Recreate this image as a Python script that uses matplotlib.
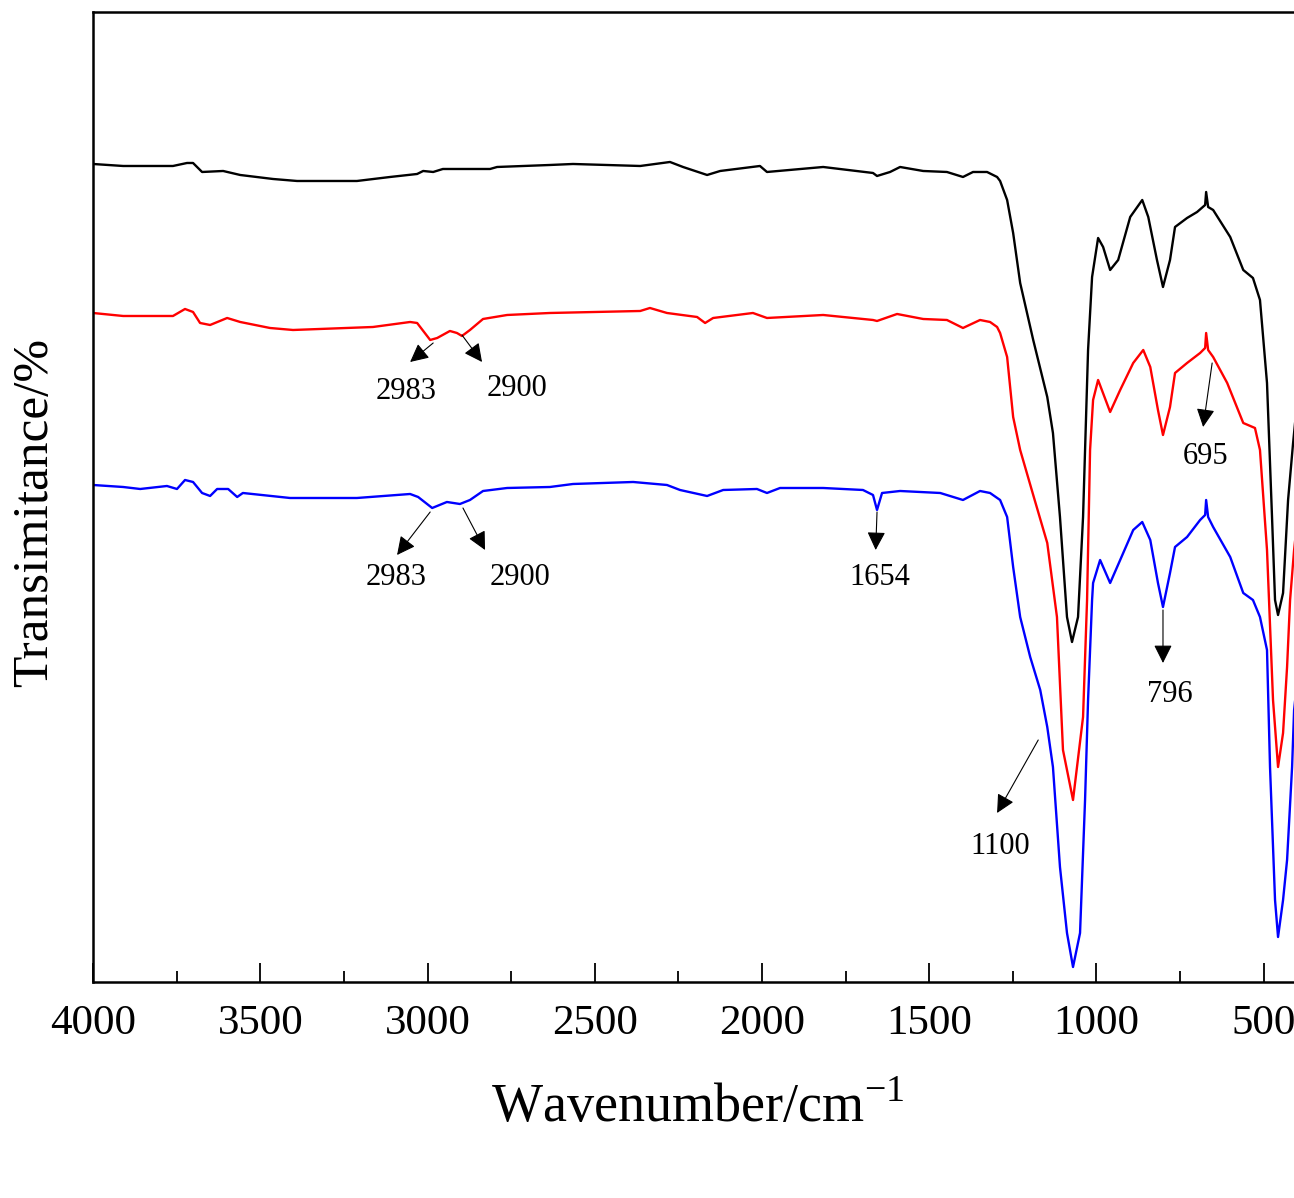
# FTIR spectra of the three samples, stacked with offsets
import numpy as np
import matplotlib.pyplot as plt
from matplotlib.ticker import MultipleLocator

plt.rcParams['font.family'] = ['Liberation Serif', 'DejaVu Serif']
plt.rcParams['mathtext.fontset'] = 'custom'
plt.rcParams['mathtext.rm'] = 'Liberation Serif'

# wavenumber (cm-1) and transmittance (offset, a.u.)
wn_black = [4000, 3910, 3761, 3719, 3701, 3674, 3611, 3560, 3462, 3390, 3211, 3112,
            3031, 3013, 2983, 2954, 2813, 2792, 2634, 2565, 2364, 2275, 2236, 2164,
            2125, 2006, 1985, 1817, 1668, 1656, 1617, 1587, 1518, 1447, 1399, 1369,
            1327, 1297, 1288, 1267, 1249, 1228, 1189, 1147, 1130, 1109, 1088, 1073,
            1055, 1040, 1025, 1013, 995, 980, 959, 935, 899, 863, 845, 819, 801, 780,
            765, 729, 699, 675, 672, 666, 651, 600, 561, 532, 511, 490, 475, 466, 457,
            442, 427, 412, 400]
t_black = [81.8, 81.6, 81.6, 81.9, 81.9, 81.0, 81.1, 80.7, 80.3, 80.1, 80.1, 80.5,
           80.8, 81.1, 81.0, 81.3, 81.3, 81.5, 81.7, 81.8, 81.6, 82.0, 81.5, 80.7,
           81.1, 81.6, 81.0, 81.5, 80.9, 80.6, 81.0, 81.5, 81.1, 81.0, 80.5, 81.0,
           81.0, 80.5, 80.1, 78.2, 74.9, 69.9, 64.2, 58.5, 54.9, 46.5, 36.5, 34.0,
           36.5, 46.5, 63.2, 70.5, 74.4, 73.5, 71.2, 72.2, 76.5, 78.2, 76.5, 72.2, 69.5, 72.2,
           75.5, 76.4, 77.0, 77.7, 79.0, 77.5, 77.2, 74.5, 71.2, 70.4, 68.2, 59.9, 46.5, 38.2, 36.7,
           38.9, 48.2, 53.9, 58.0]

wn_red = [4000, 3910, 3761, 3725, 3701, 3680, 3650, 3599, 3560, 3471, 3402, 3163,
          3052, 3031, 2992, 2971, 2933, 2912, 2897, 2873, 2834, 2762, 2634, 2364,
          2335, 2284, 2194, 2170, 2146, 2027, 1985, 1817, 1668, 1656, 1596, 1518,
          1447, 1399, 1348, 1318, 1297, 1288, 1267, 1249, 1228, 1189, 1147, 1118,
          1100, 1070, 1040, 1028, 1019, 1010, 995, 959, 929, 890, 860, 839, 816, 801,
          780, 765, 729, 690, 675, 672, 666, 651, 609, 561, 526, 511, 490, 472, 457,
          442, 430, 421, 409, 400]
t_red = [66.9, 66.6, 66.6, 67.3, 67.0, 65.9, 65.7, 66.4, 66.0, 65.4, 65.2, 65.5,
         66.0, 65.9, 64.2, 64.4, 65.1, 64.9, 64.6, 65.2, 66.3, 66.7, 66.9, 67.1,
         67.4, 66.9, 66.5, 65.9, 66.4, 66.9, 66.4, 66.7, 66.2, 66.1, 66.8, 66.3,
         66.2, 65.4, 66.2, 66.0, 65.5, 64.9, 62.5, 56.5, 53.2, 48.7, 43.9, 36.5,
         23.2, 18.2, 26.5, 38.2, 53.2, 58.2, 60.2, 57.0, 59.2, 61.9, 63.2, 61.5, 57.2, 54.7,
         57.5, 60.9, 61.9, 62.9, 63.4, 64.9, 63.2, 62.5, 59.9, 55.9, 55.4, 53.2, 43.2, 28.2, 21.5,
         24.9, 31.5, 38.2, 43.2, 46.0]

wn_blue = [4000, 3910, 3859, 3779, 3749, 3725, 3701, 3674, 3650, 3629, 3596, 3569,
           3552, 3411, 3211, 3052, 3028, 2986, 2942, 2903, 2873, 2834, 2762, 2634,
           2565, 2385, 2284, 2245, 2164, 2116, 2015, 1985, 1946, 1817, 1698, 1668,
           1656, 1641, 1587, 1467, 1399, 1348, 1318, 1288, 1267, 1249, 1228, 1198,
           1168, 1147, 1130, 1109, 1088, 1070, 1049, 1034, 1025, 1013, 1010, 989, 959,
           929, 890, 863, 839, 816, 801, 780, 765, 729, 690, 675, 672, 666, 651, 600,
           561, 532, 511, 490, 481, 466, 457, 442, 430, 415, 409, 400]
t_blue = [49.7, 49.5, 49.3, 49.6, 49.3, 50.2, 50.0, 48.9, 48.6, 49.3, 49.3, 48.5,
          48.9, 48.4, 48.4, 48.8, 48.5, 47.4, 48.0, 47.8, 48.2, 49.1, 49.4, 49.5,
          49.8, 50.0, 49.7, 49.2, 48.6, 49.2, 49.3, 48.9, 49.4, 49.4, 49.2, 48.7,
          47.2, 48.9, 49.1, 48.9, 48.2, 49.1, 48.9, 48.2, 46.5, 41.5, 36.5, 32.5,
          29.2, 25.5, 21.5, 11.5, 4.9, 1.5, 4.9, 18.2, 28.2, 38.2, 39.9, 42.2, 39.9,
          42.2, 45.2, 46.0, 44.2, 39.9, 37.5, 40.9, 43.5, 44.5, 46.2, 46.7, 48.2, 46.5, 45.5, 42.5,
          38.9, 38.2, 36.5, 33.2, 21.5, 8.2, 4.5, 8.2, 12.2, 21.5, 27.2, 30.0]

# peak labels: text, arrow tail (on curve), arrow head, label position
peak_labels = ['2983', '2900', '2983', '2900', '1654', '1100', '796', '695']
arrow_tail = [(2983, 63.9), (2897, 64.7), (2992, 47.0), (2894, 47.4),
              (1656, 47.0), (1174, 24.2), (801, 37.2), (654, 61.9)]
arrow_head = [(3052, 62.0), (2837, 62.0), (3091, 42.7), (2828, 43.2),
              (1660, 43.2), (1297, 16.9), (801, 31.9), (681, 55.5)]
label_pos = [(3064, 59.0), (2732, 59.3), (3094, 40.4), (2723, 40.4),
             (1647, 40.4), (1288, 13.5), (780, 28.7), (675, 52.5)]

fig = plt.figure(figsize=(12.94, 11.98), dpi=100)
ax = fig.add_axes([0.0719, 0.1803, 0.9305, 0.8097])

ax.plot(wn_black, t_black, color='black', lw=1.7)
ax.plot(wn_red, t_red, color='red', lw=1.7)
ax.plot(wn_blue, t_blue, color='blue', lw=1.7)

for lab, tail, head, pos in zip(peak_labels, arrow_tail, arrow_head, label_pos):
    ax.annotate('', xy=head, xytext=tail,
                arrowprops=dict(arrowstyle='-|>', color='black', lw=0.8,
                                mutation_scale=28, shrinkA=0, shrinkB=0))
    ax.text(pos[0], pos[1], lab, fontsize=22, ha='center', va='center')

ax.set_xlim(4000, 400)
ax.set_ylim(0, 97)
ax.xaxis.set_major_locator(MultipleLocator(500))
ax.xaxis.set_minor_locator(MultipleLocator(250))
ax.tick_params(axis='x', which='both', direction='in', top=False, labelsize=31, pad=16)
ax.tick_params(axis='x', which='major', length=14, width=1.3)
ax.tick_params(axis='x', which='minor', length=8, width=1.3)
ax.set_yticks([])
for s in ax.spines.values():
    s.set_linewidth(1.8)

ax.set_xlabel(r'Wavenumber/cm$^{\mathregular{-1}}$', fontsize=39)
ax.xaxis.set_label_coords(0.502, -0.105)
ax.set_ylabel('Transimitance/%', fontsize=37)
ax.yaxis.set_label_coords(-0.029, 0.4845)

fig.savefig('out.png', dpi=100)
